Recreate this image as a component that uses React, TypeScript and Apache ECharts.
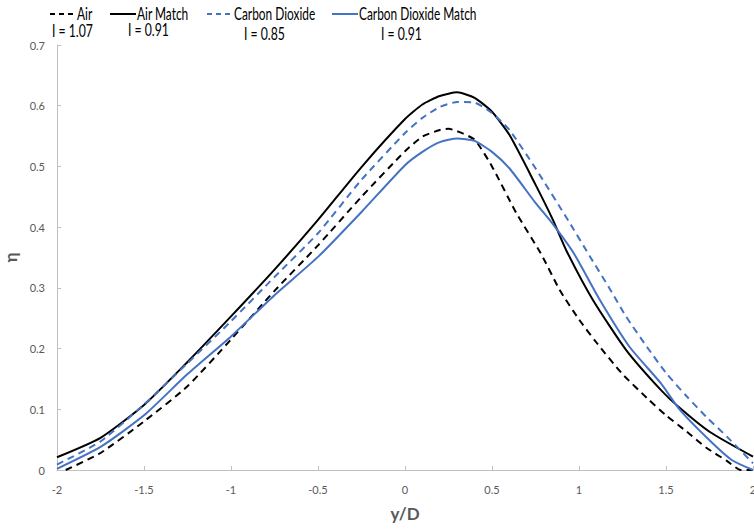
import React, { useEffect, useRef } from "react";
import * as echarts from "echarts";

const xTicks = { min: -2, max: 2, interval: 0.5 };
const yTicks = { min: 0, max: 0.7, interval: 0.1 };

const seriesNames = ["Air", "Air Match", "Carbon Dioxide", "Carbon Dioxide Match"];
const momentumLabels = ["I = 1.07", "I = 0.91", "I = 0.85", "I = 0.91"];

const airX = [-1.95, -1.75, -1.5, -1.25, -1, -0.75, -0.5, -0.25, 0, 0.1, 0.2, 0.25, 0.3, 0.4, 0.5, 0.64, 0.78, 0.89, 1.0, 1.1, 1.25, 1.4, 1.5, 1.62, 1.73, 1.85, 1.93, 2];
const airY = [0.0, 0.028, 0.08, 0.138, 0.215, 0.295, 0.37, 0.45, 0.525, 0.549, 0.56, 0.562, 0.558, 0.544, 0.5, 0.423, 0.357, 0.296, 0.248, 0.21, 0.158, 0.116, 0.09, 0.063, 0.037, 0.015, 0.0, 0.0];

const airMatchX = [-2, -1.75, -1.5, -1.25, -1, -0.75, -0.5, -0.25, 0, 0.1, 0.2, 0.3, 0.4, 0.5, 0.6, 0.75, 0.85, 0.93, 1.08, 1.27, 1.47, 1.58, 1.75, 2];
const airMatchY = [0.021, 0.053, 0.107, 0.178, 0.253, 0.33, 0.412, 0.499, 0.578, 0.602, 0.616, 0.622, 0.613, 0.59, 0.552, 0.47, 0.412, 0.36, 0.28, 0.198, 0.132, 0.102, 0.063, 0.022];

const co2X = [-2, -1.75, -1.5, -1.25, -1, -0.75, -0.5, -0.25, 0, 0.1, 0.2, 0.3, 0.4, 0.5, 0.6, 0.75, 0.94, 1.06, 1.18, 1.27, 1.39, 1.5, 1.62, 1.73, 1.85, 2];
const co2Y = [0.009, 0.047, 0.108, 0.176, 0.245, 0.318, 0.39, 0.478, 0.555, 0.58, 0.598, 0.606, 0.605, 0.588, 0.56, 0.497, 0.41, 0.353, 0.297, 0.253, 0.203, 0.16, 0.121, 0.088, 0.055, 0.011];

const co2MatchX = [-2, -1.75, -1.5, -1.25, -1, -0.75, -0.5, -0.25, 0, 0.1, 0.2, 0.3, 0.4, 0.5, 0.6, 0.75, 0.85, 0.97, 1.12, 1.29, 1.47, 1.58, 1.75, 1.88, 2];
const co2MatchY = [0.002, 0.038, 0.09, 0.158, 0.22, 0.288, 0.351, 0.425, 0.502, 0.524, 0.54, 0.546, 0.542, 0.524, 0.497, 0.44, 0.405, 0.357, 0.28, 0.203, 0.143, 0.099, 0.049, 0.016, 0.0];

const BLACK = "#000000";
const BLUE = "#4472C4";
const DASH = [7, 5];

function pairs(xs: number[], ys: number[]) {
  return xs.map((x, i) => [x, ys[i]]);
}

export default function App() {
  const ref = useRef<HTMLDivElement>(null);
  useEffect(() => {
    if (!ref.current) return;
    const chart = echarts.init(ref.current, undefined, { renderer: "svg" });
    const font = "Lato, 'Open Sans', sans-serif";
    const legendItems = [
      { name: seriesNames[0], sub: momentumLabels[0], x0: 50, color: BLACK, dash: true, subX: 52, subY: 30 },
      { name: seriesNames[1], sub: momentumLabels[1], x0: 110, color: BLACK, dash: false, subX: 128, subY: 29 },
      { name: seriesNames[2], sub: momentumLabels[2], x0: 207, color: BLUE, dash: true, subX: 244, subY: 33 },
      { name: seriesNames[3], sub: momentumLabels[3], x0: 332, color: BLUE, dash: false, subX: 381, subY: 33 },
    ];
    const graphics: any[] = [];
    legendItems.forEach((it) => {
      graphics.push({
        type: "line",
        shape: { x1: it.x0, y1: 14, x2: it.x0 + 26, y2: 14 },
        style: { stroke: it.color, lineWidth: 2, lineDash: it.dash ? [5, 4] : undefined },
      });
      graphics.push({
        type: "text",
        x: it.x0 + 27,
        y: 14,
        scaleX: 0.7,
        style: { text: it.name, font: `17px ${font}`, fill: "#000", verticalAlign: "middle" },
      });
      graphics.push({
        type: "text",
        x: it.subX,
        y: it.subY,
        scaleX: 0.72,
        style: { text: it.sub, font: `17px ${font}`, fill: "#000", verticalAlign: "middle" },
      });
    });

    chart.setOption({
      animation: false,
      backgroundColor: "#ffffff",
      grid: { left: 57, right: 1, top: 45, bottom: 61, containLabel: false, outerBoundsMode: "none" },
      xAxis: {
        type: "value",
        min: xTicks.min,
        max: xTicks.max,
        interval: xTicks.interval,
        name: "y/D",
        nameLocation: "middle",
        nameGap: 35,
        nameTextStyle: { fontSize: 17, fontWeight: "bold", color: "#595959", fontFamily: font },
        axisLine: { show: true, onZero: false, lineStyle: { color: "#c0c0c0", width: 1 } },
        axisTick: { show: true, inside: true, length: 4, lineStyle: { color: "#c0c0c0" } },
        axisLabel: { color: "#595959", fontSize: 11, fontFamily: font, margin: 14, showMaxLabel: true, showMinLabel: true, hideOverlap: false },
        splitLine: { show: false },
      },
      yAxis: {
        type: "value",
        min: yTicks.min,
        max: yTicks.max,
        interval: yTicks.interval,
        name: "η",
        nameLocation: "middle",
        nameGap: 38,
        nameRotate: 90,
        nameTextStyle: { fontSize: 17, fontWeight: "bold", color: "#595959", fontFamily: font },
        axisLine: { show: true, onZero: false, lineStyle: { color: "#c0c0c0", width: 1 } },
        axisTick: { show: true, inside: true, length: 4, lineStyle: { color: "#c0c0c0" } },
        axisLabel: { color: "#595959", fontSize: 11, fontFamily: font, margin: 12 },
        splitLine: { show: false },
      },
      series: [
        { name: seriesNames[0], type: "line", data: pairs(airX, airY), showSymbol: false, smooth: 0.2, lineStyle: { color: BLACK, width: 2, type: DASH } },
        { name: seriesNames[1], type: "line", data: pairs(airMatchX, airMatchY), showSymbol: false, smooth: 0.2, lineStyle: { color: BLACK, width: 2 } },
        { name: seriesNames[2], type: "line", data: pairs(co2X, co2Y), showSymbol: false, smooth: 0.2, lineStyle: { color: BLUE, width: 2, type: DASH } },
        { name: seriesNames[3], type: "line", data: pairs(co2MatchX, co2MatchY), showSymbol: false, smooth: 0.2, lineStyle: { color: BLUE, width: 2 } },
      ],
      graphic: graphics,
    });
    return () => chart.dispose();
  }, []);
  return <div ref={ref} style={{ width: 754, height: 531, position: "absolute", left: 0, top: 0 }} />;
}
